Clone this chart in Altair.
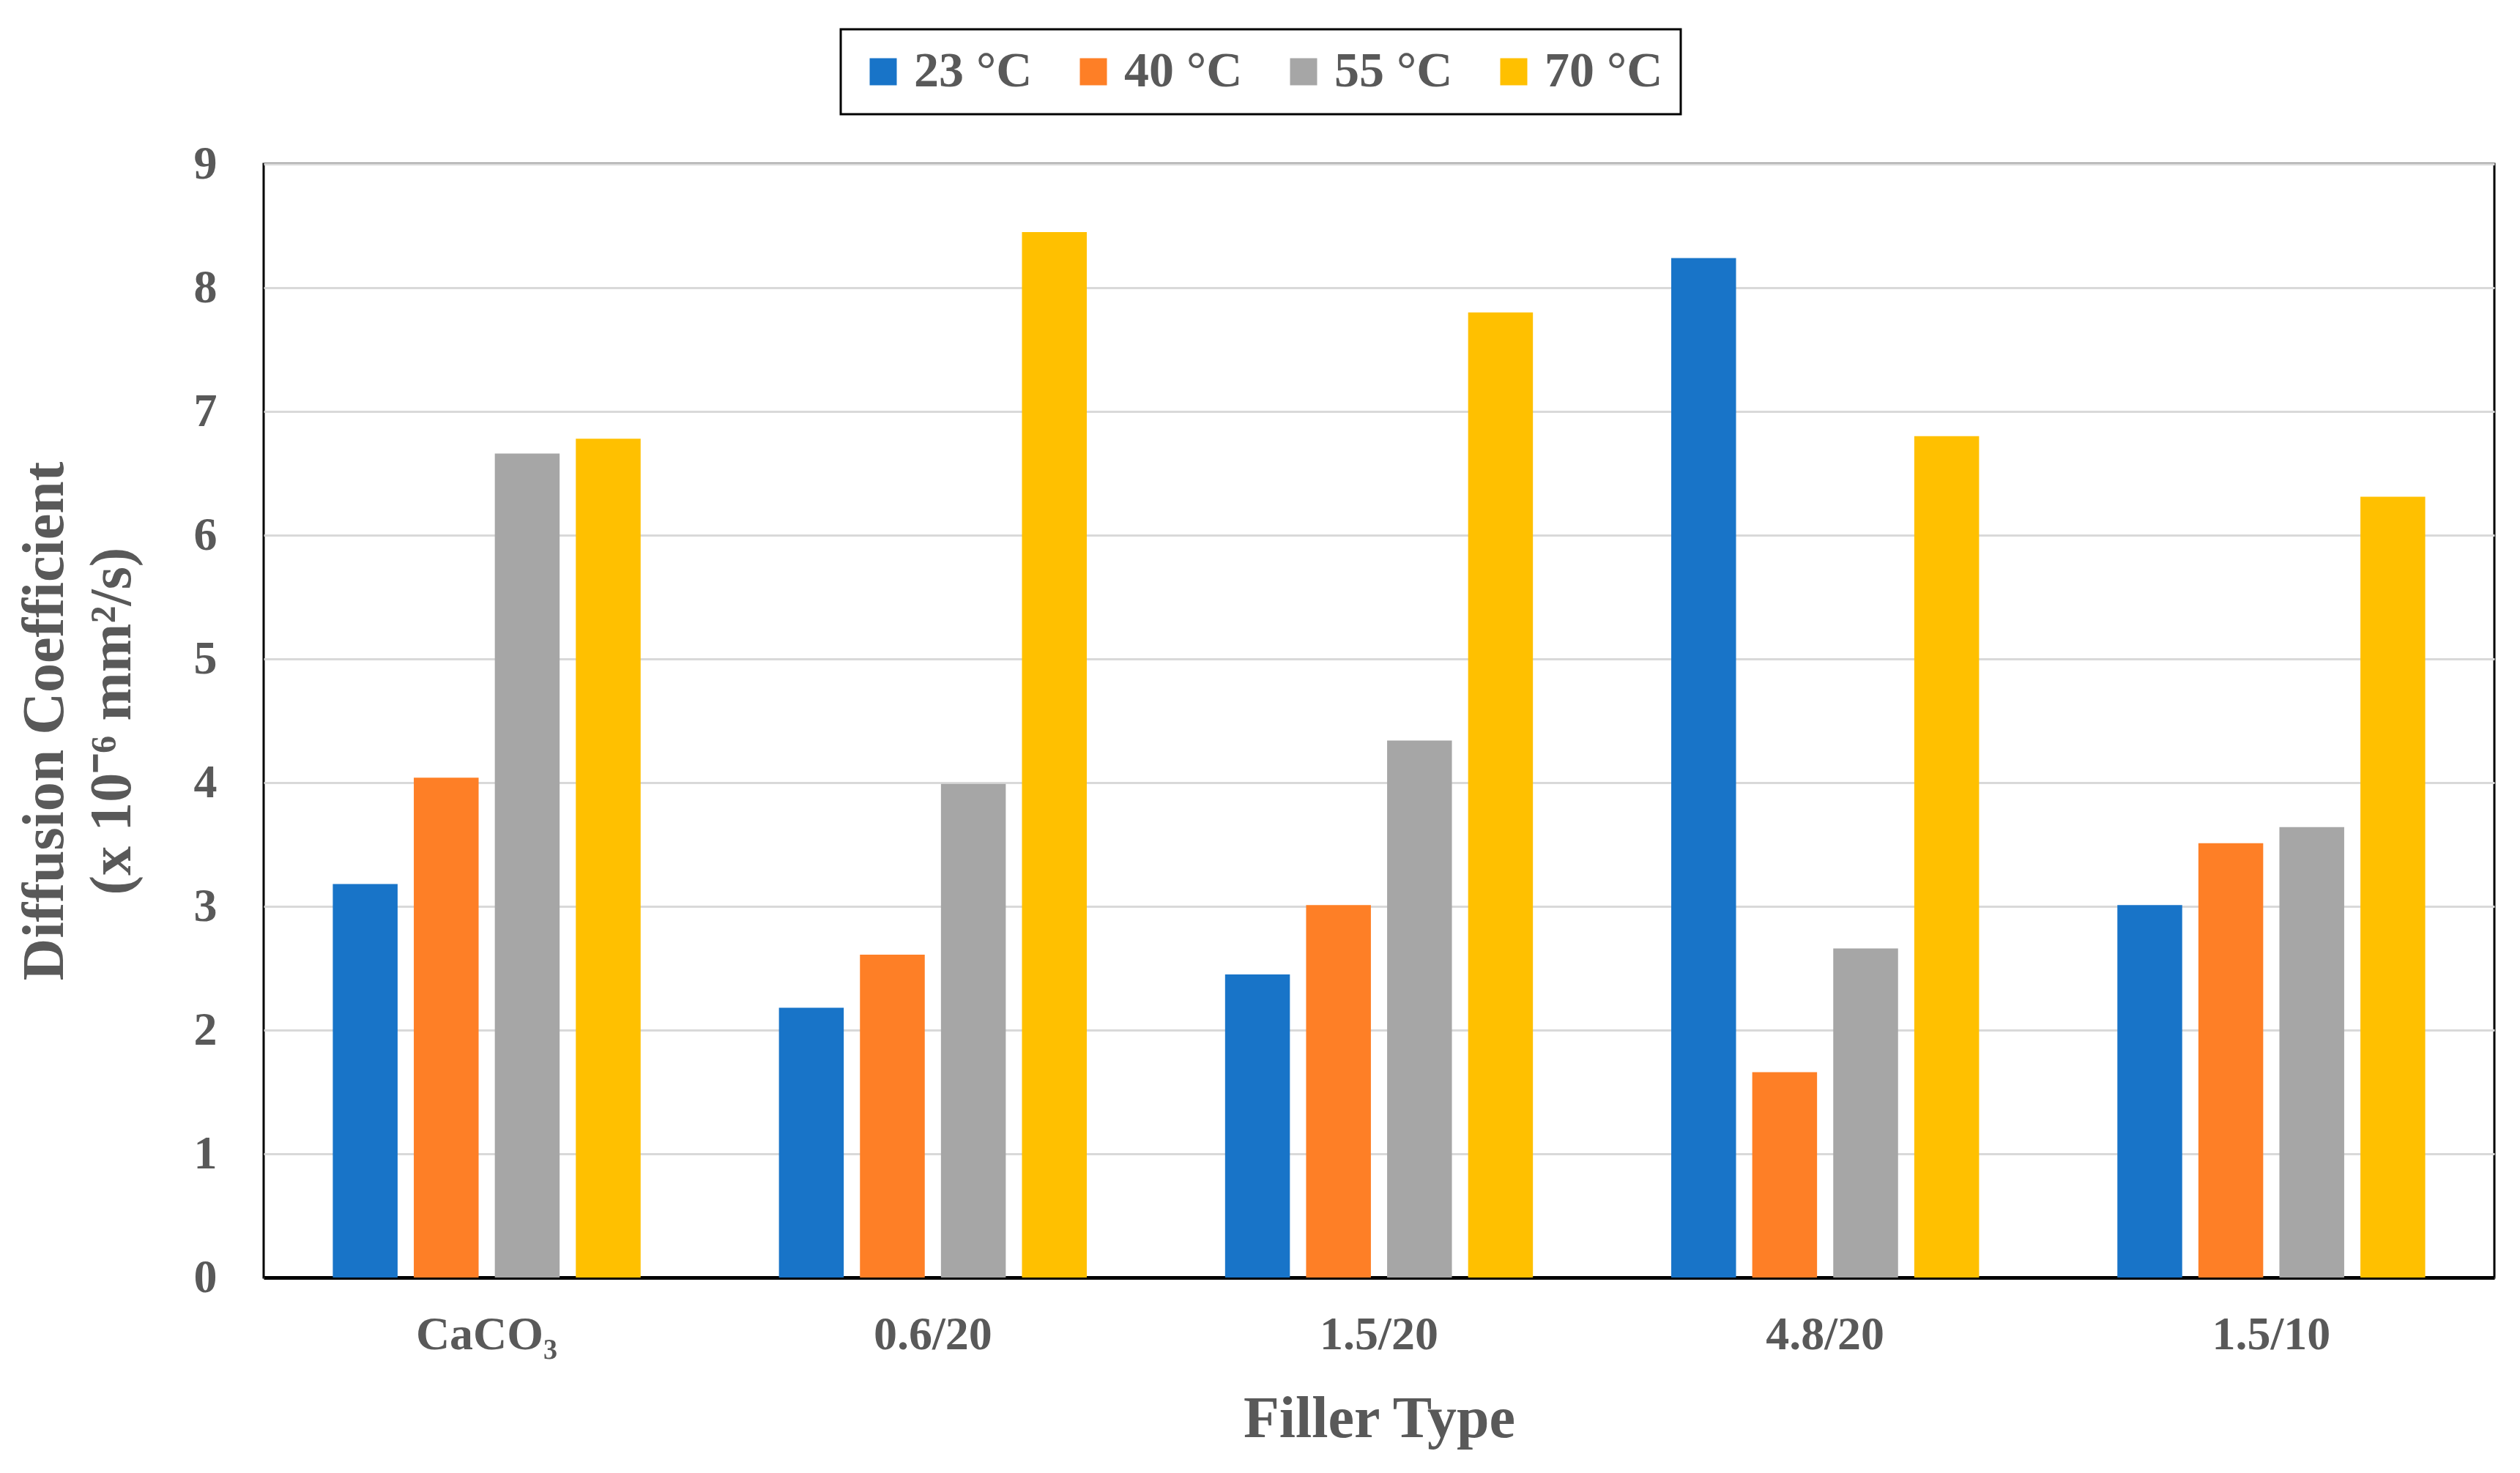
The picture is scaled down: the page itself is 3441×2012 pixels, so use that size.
import altair as alt
import pandas as pd

categories = ["CaCO₃", "0.6/20", "1.5/20", "4.8/20", "1.5/10"]
series = ["23 °C", "40 °C", "55 °C", "70 °C"]
colors = ["#1874C8", "#FE7F26", "#A6A6A6", "#FFC000"]
v23 = [3.18, 2.18, 2.45, 8.24, 3.01]
v40 = [4.04, 2.61, 3.01, 1.66, 3.51]
v55 = [6.66, 3.99, 4.34, 2.66, 3.64]
v70 = [6.78, 8.45, 7.80, 6.80, 6.31]

rows = []
for s, vals in zip(series, [v23, v40, v55, v70]):
    for c, v in zip(categories, vals):
        rows.append({"Filler": c, "Temp": s, "D": v})
df = pd.DataFrame(rows)

FONT = "Liberation Serif"
GREY = "#595959"

chart = alt.Chart(df).mark_bar().encode(
    x=alt.X("Filler:N", sort=categories,
            scale=alt.Scale(paddingInner=0.31, paddingOuter=0.155),
            axis=alt.Axis(title="Filler Type", labelAngle=0, ticks=False,
                          labelPadding=46, titlePadding=44, labelLimit=600,
                          domainColor="black", domainWidth=5)),
    xOffset=alt.XOffset("Temp:N", sort=series,
                        scale=alt.Scale(paddingInner=0.2, paddingOuter=0)),
    y=alt.Y("D:Q", scale=alt.Scale(domain=[0, 9], nice=False),
            axis=alt.Axis(title=["Diffusion Coefficient", "(x 10⁻⁶ mm²/s)"],
                          values=list(range(10)), ticks=False, domain=False,
                          labelPadding=64, titlePadding=70,
                          titleLineHeight=92)),
    color=alt.Color("Temp:N", sort=series,
                    scale=alt.Scale(domain=series, range=colors),
                    legend=alt.Legend(title=None, orient="none",
                                      legendX=788, legendY=-184,
                                      direction="horizontal",
                                      symbolType="square", symbolSize=1369,
                                      symbolStrokeWidth=0,
                                      labelFontSize=68, labelFont=FONT,
                                      labelFontWeight="bold", labelColor=GREY,
                                      labelOffset=8, labelLimit=400,
                                      columnPadding=49, padding=24,
                                      strokeColor="black",
                                      fillColor="white")),
).properties(
    width=3046, height=1521,
    autosize=alt.AutoSizeParams(type="none"),
    padding={"left": 352, "top": 216, "right": 20, "bottom": 250},
).configure_view(
    stroke="black", strokeWidth=3
).configure_axis(
    labelFont=FONT, labelFontSize=64, labelFontWeight="bold", labelColor=GREY,
    titleFont=FONT, titleFontSize=80, titleFontWeight="bold", titleColor=GREY,
    gridColor="#D9D9D9", gridWidth=3,
).configure_legend(
    strokeWidth=3
)

chart.save("out.html", embed_options={"renderer": "svg", "actions": False})
